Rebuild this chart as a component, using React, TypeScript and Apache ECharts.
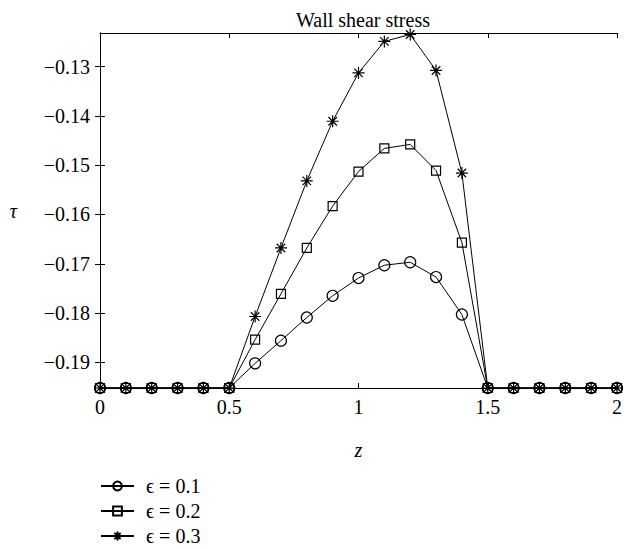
import React, { useEffect, useRef } from "react";
import * as echarts from "echarts";

const zValues = [0, 0.1, 0.2, 0.3, 0.4, 0.5, 0.6, 0.7, 0.8, 0.9, 1.0, 1.1, 1.2, 1.3, 1.4, 1.5, 1.6, 1.7, 1.8, 1.9, 2.0];
const tauEps01 = [-0.1952, -0.1952, -0.1952, -0.1952, -0.1952, -0.1952, -0.1902, -0.1856, -0.1809, -0.1765, -0.1729, -0.1703, -0.1697, -0.1727, -0.1803, -0.1952, -0.1952, -0.1952, -0.1952, -0.1952, -0.1952];
const tauEps02 = [-0.1952, -0.1952, -0.1952, -0.1952, -0.1952, -0.1952, -0.1854, -0.1761, -0.1668, -0.1583, -0.1513, -0.1466, -0.1458, -0.1511, -0.1657, -0.1952, -0.1952, -0.1952, -0.1952, -0.1952, -0.1952];
const tauEps03 = [-0.1952, -0.1952, -0.1952, -0.1952, -0.1952, -0.1952, -0.1807, -0.1668, -0.1532, -0.1411, -0.1313, -0.1249, -0.1235, -0.1308, -0.1516, -0.1952, -0.1952, -0.1952, -0.1952, -0.1952, -0.1952];
const seriesNames = ["\u03f5 = 0.1", "\u03f5 = 0.2", "\u03f5 = 0.3"];
const yTicks = [-0.19, -0.18, -0.17, -0.16, -0.15, -0.14, -0.13];
const xTicks = [0, 0.5, 1, 1.5, 2];

const FONT = "'Liberation Serif', 'Times New Roman', serif";
const STAR = "path://M6,0L6,12M0,6L12,6M1.76,1.76L10.24,10.24M1.76,10.24L10.24,1.76";

export default function App() {
  const ref = useRef<HTMLDivElement>(null);
  useEffect(() => {
    if (!ref.current) return;
    const chart = echarts.init(ref.current, null, { renderer: "svg" });
    const toPairs = (ys: number[]) => zValues.map((z, i) => [z, ys[i]]);
    const mk = (name: string, ys: number[], symbol: string, size: number) => ({
      name,
      type: "line",
      data: toPairs(ys),
      symbol,
      symbolSize: size,
      showAllSymbol: true,
      lineStyle: { color: "#000", width: 1 },
      itemStyle: { color: "rgba(0,0,0,0)", borderColor: "#000", borderWidth: 1.2 },
      emphasis: { disabled: true },
      clip: false,
    });
    const yFmt = (v: number) => "\u2212" + Math.abs(v).toFixed(2);
    const txt = { fontFamily: FONT, fontSize: 20, color: "#000" };
    chart.setOption({
      animation: false,
      backgroundColor: "#fff",
      textStyle: { fontFamily: FONT, color: "#000" },
      title: {
        text: "Wall shear stress",
        left: 358,
        textAlign: "center",
        top: 5,
        textStyle: { ...txt, fontWeight: "normal" },
      },
      legend: {
        orient: "vertical",
        left: 100,
        top: 476,
        padding: 0,
        itemWidth: 33,
        itemHeight: 11,
        itemGap: 5,
        data: seriesNames,
        textStyle: { ...txt, padding: [0, 0, 0, 7] },
      },
      grid: { left: 100, right: 9, top: 33, bottom: 161 },
      xAxis: [
        {
          type: "value",
          min: 0,
          max: 2,
          interval: 0.5,
          name: "z",
          nameLocation: "middle",
          nameGap: 52,
          nameTextStyle: { ...txt, fontStyle: "italic" },
          axisLine: { show: true, lineStyle: { color: "#000", width: 1 } },
          axisTick: { show: true, inside: true, length: 5, lineStyle: { color: "#000" }, customValues: xTicks },
          axisLabel: { ...txt, margin: 9, customValues: xTicks, formatter: (v: number) => String(v) },
          splitLine: { show: false },
        },
        {
          type: "value",
          position: "top",
          min: 0,
          max: 2,
          interval: 0.5,
          axisLine: { show: true, lineStyle: { color: "#000", width: 1 } },
          axisTick: { show: true, inside: true, length: 5, lineStyle: { color: "#000" }, customValues: xTicks },
          axisLabel: { show: false },
          splitLine: { show: false },
        },
      ],
      yAxis: [
        {
          type: "value",
          min: -0.1952,
          max: -0.1232,
          name: "\u03c4",
          nameLocation: "middle",
          nameRotate: 0,
          nameGap: 83,
          nameTextStyle: { ...txt, fontStyle: "italic" },
          axisLine: { show: true, lineStyle: { color: "#000", width: 1 } },
          axisTick: { show: true, inside: true, length: 5, lineStyle: { color: "#000" }, customValues: yTicks },
          axisLabel: { ...txt, margin: 10, customValues: yTicks, formatter: yFmt },
          splitLine: { show: false },
        },
        {
          type: "value",
          position: "right",
          min: -0.1952,
          max: -0.1232,
          axisLine: { show: true, lineStyle: { color: "#000", width: 1 } },
          axisTick: { show: true, inside: true, length: 5, lineStyle: { color: "#000" }, customValues: yTicks },
          axisLabel: { show: false },
          splitLine: { show: false },
        },
      ],
      series: [
        mk(seriesNames[0], tauEps01, "circle", 11),
        mk(seriesNames[1], tauEps02, "rect", 9),
        mk(seriesNames[2], tauEps03, STAR, 12),
      ],
    });
    return () => chart.dispose();
  }, []);
  return <div ref={ref} style={{ width: 626, height: 549, position: "absolute", left: 0, top: 0 }} />;
}
